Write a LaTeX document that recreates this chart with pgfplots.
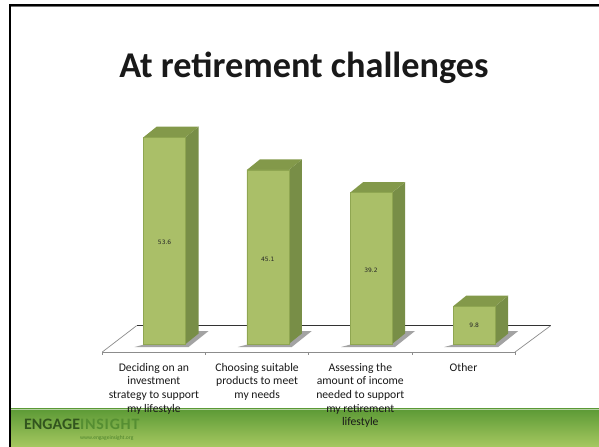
\documentclass[border=0pt]{standalone}
\usepackage{pgfplots}
\pgfplotsset{compat=1.18}
\usepackage{fontspec}
\setmainfont{Carlito}
\newfontfamily\lblfont{DejaVu Sans}
\definecolor{frontg}{HTML}{AABF68}
\definecolor{frontb}{HTML}{8FA651}
\definecolor{sideg}{HTML}{788E47}
\definecolor{topg}{HTML}{83994A}
\definecolor{footA}{HTML}{5C9A36}
\definecolor{footB}{HTML}{A6C860}
\begin{document}
\begin{tikzpicture}[x=1bp,y=1bp]
\path[fill=white] (0,0) rectangle (599,447);
\shade[bottom color=footB,top color=footA] (11,0) rectangle (599,38);
\fill[footA!45!white] (11,37.2) rectangle (599,38.4);
\fill[black] (9,0) rectangle (11,441);
\fill[black] (9,441) rectangle (599,443);
\fill[black!55] (11,440.4) rectangle (599,441);
\node[anchor=center,font=\fontsize{36.4}{38}\selectfont\bfseries,text=black!90] at (304,379.5) {At retirement challenges};
\node[anchor=west,font=\fontsize{16}{17}\selectfont\bfseries,text=black!45!footA,inner sep=0pt] at (24,23) {ENGAGE\textcolor{black!8!footA}{\addfontfeatures{LetterSpace=5}INSIGHT}};
\node[anchor=west,font=\fontsize{5.6}{7}\selectfont,text=black!15!footA,inner sep=0pt] at (80,9) {www.engageinsight.org};
\begin{axis}[
  at={(102.3bp,95bp)},anchor=south west,
  scale only axis,width=412.8bp,height=226bp,
  xmin=-0.5,xmax=3.5,ymin=-2.07,ymax=56.5,
  clip=false,
  axis x line=bottom,axis y line=none,
  axis line style={draw=black!45,line width=0.8bp,-},
  xtick={0,1,2,3},
  xticklabels={Deciding on an\\investment\\strategy to support\\my lifestyle,
    Choosing suitable\\products to meet\\my needs,
    Assessing the\\amount of income\\needed to support\\my retirement\\lifestyle,
    Other},
  xticklabel style={align=center,anchor=north,yshift=-11bp,inner sep=0pt,
    font=\fontsize{11.7}{13.7}\selectfont,text=black!90},
  major tick length=0pt,
  minor xtick={-0.5,0.5,1.5,2.5,3.5},
  minor tick length=3bp,
  every minor tick/.style={draw=black!45,line width=0.6bp},
  tick align=outside,
]
\addplot[draw=black!80,line width=0.8bp] coordinates {(-0.168,4.74) (3.844,4.74)};
\addplot[draw=black!45,line width=0.7bp] coordinates {(-0.5,-2.07) (-0.168,4.74)};
\addplot[draw=black!45,line width=0.7bp] coordinates {(3.5,-2.07) (3.844,4.74)};
\addplot[fill=black!45,draw=none,opacity=0.8] coordinates {(-0.187,-0.78) (0.336,-0.78) (0.530,3.37) (0.404,3.37)} --cycle;
\addplot[fill=black!45,draw=none,opacity=0.8] coordinates {(0.813,-0.78) (1.336,-0.78) (1.530,3.37) (1.404,3.37)} --cycle;
\addplot[fill=black!45,draw=none,opacity=0.8] coordinates {(1.813,-0.78) (2.336,-0.78) (2.530,3.37) (2.404,3.37)} --cycle;
\addplot[fill=black!45,draw=none,opacity=0.8] coordinates {(2.813,-0.78) (3.336,-0.78) (3.530,3.37) (3.404,3.37)} --cycle;
\addplot[fill=sideg,draw=none] coordinates {(0.3072,0) (0.4332,2.72) (0.4332,56.32) (0.3072,53.6)} --cycle;
\addplot[fill=sideg,draw=none] coordinates {(1.3072,0) (1.4332,2.72) (1.4332,47.82) (1.3072,45.1)} --cycle;
\addplot[fill=sideg,draw=none] coordinates {(2.3072,0) (2.4332,2.72) (2.4332,41.92) (2.3072,39.2)} --cycle;
\addplot[fill=sideg,draw=none] coordinates {(3.3072,0) (3.4332,2.72) (3.4332,12.52) (3.3072,9.8)} --cycle;
\addplot[fill=topg,draw=none] coordinates {(-0.0998,53.6) (0.3072,53.6) (0.4332,56.32) (0.0262,56.32)} --cycle;
\addplot[fill=topg,draw=none] coordinates {(0.9002,45.1) (1.3072,45.1) (1.4332,47.82) (1.0262,47.82)} --cycle;
\addplot[fill=topg,draw=none] coordinates {(1.9002,39.2) (2.3072,39.2) (2.4332,41.92) (2.0262,41.92)} --cycle;
\addplot[fill=topg,draw=none] coordinates {(2.9002,9.8) (3.3072,9.8) (3.4332,12.52) (3.0262,12.52)} --cycle;
\addplot[ybar,bar width=42bp,bar shift=10.7bp,fill=frontg,draw=frontb,line width=0.6bp]
  coordinates {(0,53.6) (1,45.1) (2,39.2) (3,9.8)};
\addplot[draw=none,mark=none,xshift=10.7bp,
  nodes near coords,point meta=explicit symbolic,
  every node near coord/.style={anchor=center,inner sep=0pt,text=black!85,
    font=\lblfont\fontsize{6}{7}\selectfont}]
  table[x=x,y=y,meta=v] {
x y v
0 26.4 53.6
1 22.0 45.1
2 19.2 39.2
3 4.9 9.8
};
\end{axis}
\end{tikzpicture}
\end{document}
